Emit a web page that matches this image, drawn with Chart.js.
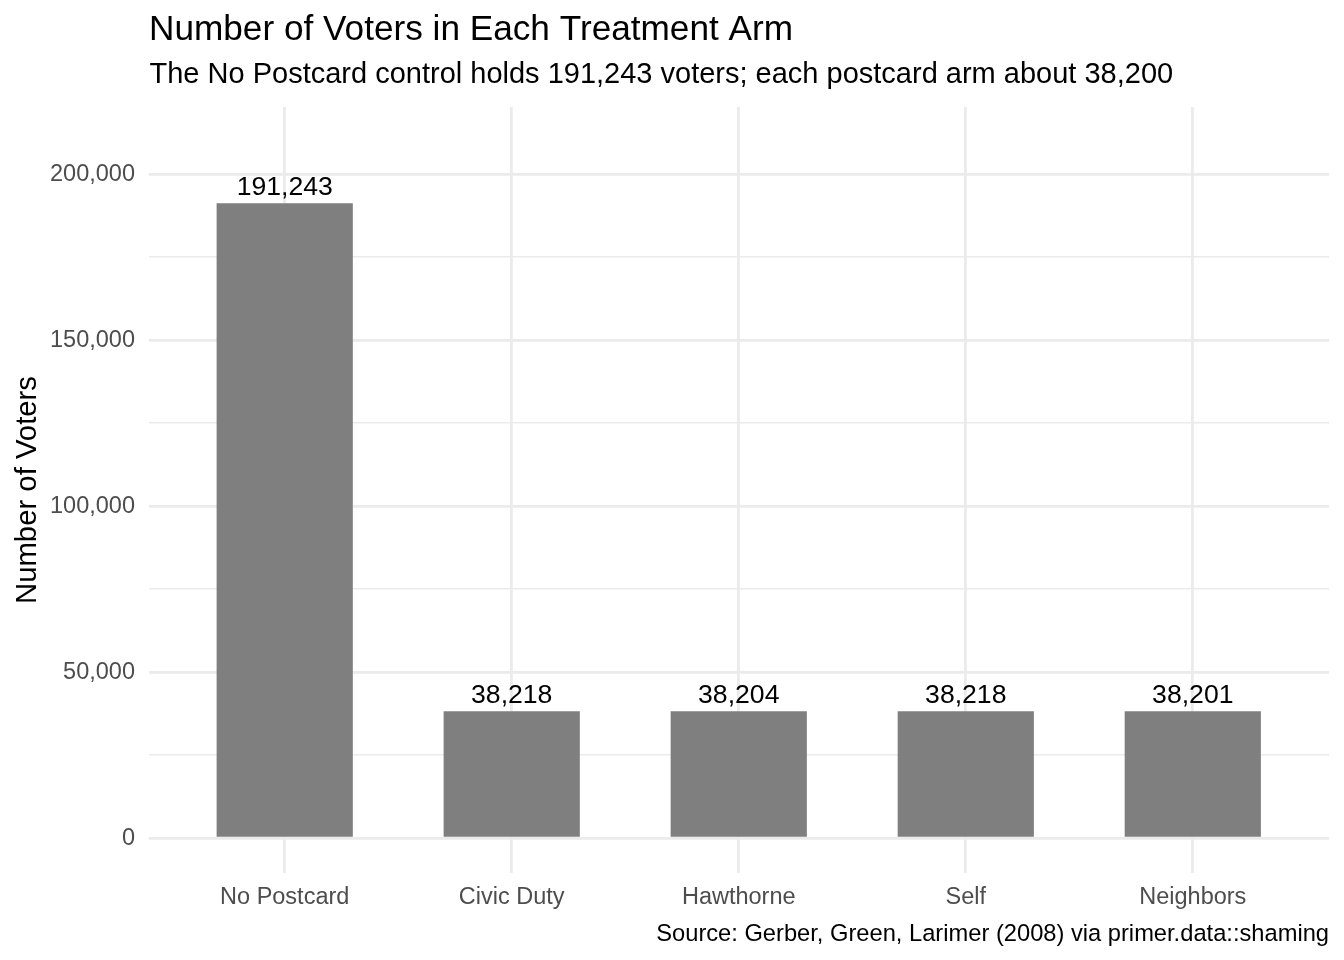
<!DOCTYPE html>
<html>
<head>
<meta charset="utf-8">
<title>Number of Voters in Each Treatment Arm</title>
<script src="https://cdn.jsdelivr.net/npm/chart.js@4.4.1/dist/chart.umd.min.js"></script>
<style>
  html, body { margin: 0; padding: 0; background: #ffffff; }
  #wrap { width: 1344px; height: 960px; }
</style>
</head>
<body>
<div id="wrap"><canvas id="chart" width="1344" height="960"></canvas></div>
<script>
// data
const categories = ['No Postcard', 'Civic Duty', 'Hawthorne', 'Self', 'Neighbors'];
const voters = [191243, 38218, 38204, 38218, 38201];
const yTicks = [0, 50000, 100000, 150000, 200000];
const yMinorTicks = [25000, 75000, 125000, 175000];

const FONT = '"Liberation Sans", Arial, Helvetica, sans-serif';
const GRID = '#EBEBEB';

const fmt = (v) => v.toLocaleString('en-US');

// titles, caption and axis title drawn like ggplot places them
const textPlugin = {
  id: 'plotText',
  afterDraw(chart) {
    const ctx = chart.ctx;
    ctx.save();
    ctx.fillStyle = '#000000';
    ctx.textBaseline = 'alphabetic';

    ctx.textAlign = 'left';
    ctx.font = '35.2px ' + FONT;
    ctx.fillText('Number of Voters in Each Treatment Arm', 149, 40);

    ctx.font = '29px ' + FONT;
    ctx.fillText('The No Postcard control holds 191,243 voters; each postcard arm about 38,200', 149.5, 83);

    ctx.textAlign = 'right';
    ctx.font = '23.7px ' + FONT;
    ctx.fillText('Source: Gerber, Green, Larimer (2008) via primer.data::shaming', 1329, 941);

    const a = chart.chartArea;
    ctx.translate(36, (a.top + a.bottom) / 2);
    ctx.rotate(-Math.PI / 2);
    ctx.textAlign = 'center';
    ctx.font = '29.3px ' + FONT;
    ctx.fillText('Number of Voters', 0, 0);
    ctx.restore();
  }
};

// value labels above each bar
const barLabels = {
  id: 'barLabels',
  afterDatasetsDraw(chart) {
    const ctx = chart.ctx;
    const meta = chart.getDatasetMeta(0);
    ctx.save();
    ctx.fillStyle = '#000000';
    ctx.font = '26.6px ' + FONT;
    ctx.textAlign = 'center';
    ctx.textBaseline = 'alphabetic';
    meta.data.forEach((bar, i) => {
      ctx.fillText(fmt(voters[i]), bar.x, bar.y - 8);
    });
    ctx.restore();
  }
};

new Chart(document.getElementById('chart'), {
  type: 'bar',
  data: {
    datasets: [{
      label: 'Number of Voters',
      data: voters.map((v, i) => ({ x: i + 1, y: v })),
      backgroundColor: '#7F7F7F',
      borderWidth: 0,
      barPercentage: 0.6,
      categoryPercentage: 1.0
    }]
  },
  options: {
    responsive: false,
    animation: false,
    layout: { padding: { top: 107, right: 15, left: 0, bottom: 0 } },
    plugins: {
      legend: { display: false },
      tooltip: { enabled: false },
      title: { display: false }
    },
    scales: {
      x: {
        type: 'linear',
        min: 0.4,
        max: 5.6,
        offset: false,
        afterBuildTicks: (scale) => {
          scale.ticks = categories.map((c, i) => ({ value: i + 1 }));
        },
        afterFit: (scale) => { scale.height = 87; },
        border: { display: false },
        grid: { color: GRID, lineWidth: 2.8, drawTicks: false, offset: false },
        ticks: {
          autoSkip: false,
          maxRotation: 0,
          padding: 10,
          color: '#4D4D4D',
          font: { family: FONT, size: 23.5 },
          callback: (value) => categories[value - 1] || ''
        }
      },
      y: {
        type: 'linear',
        min: -10480,
        max: 220200,
        afterBuildTicks: (scale) => {
          scale.ticks = yTicks.concat(yMinorTicks)
            .sort((a, b) => a - b)
            .map((v) => ({ value: v }));
        },
        afterFit: (scale) => { scale.width = 148.5; },
        border: { display: false },
        grid: {
          color: GRID,
          drawTicks: false,
          lineWidth: (ctx) => (ctx.tick && yTicks.includes(ctx.tick.value) ? 2.8 : 1.4)
        },
        ticks: {
          autoSkip: false,
          padding: 13.5,
          color: '#4D4D4D',
          font: { family: FONT, size: 23.5 },
          callback: (value) => (yTicks.includes(value) ? fmt(value) : '')
        }
      }
    }
  },
  plugins: [textPlugin, barLabels]
});
</script>
</body>
</html>
